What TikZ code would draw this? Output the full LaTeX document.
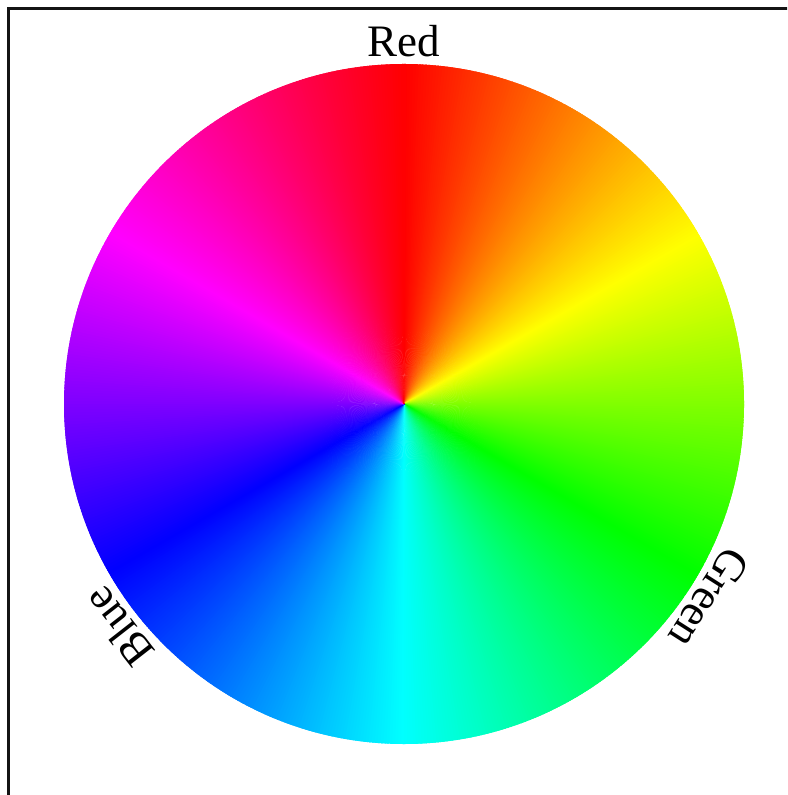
\documentclass[tikz,border=0pt]{standalone}
\usepackage{fontspec}
\setmainfont{Liberation Serif}
\usetikzlibrary{calc}
\definecolor{framegray}{RGB}{20,20,20}

\begin{document}
\begin{tikzpicture}[scale=1,
  wheellabel/.style={anchor=base,inner sep=0pt,font=\fontsize{12.8pt}{15pt}\selectfont}]
\useasboundingbox (0,0) rectangle (7.87,-7.95); %Picture size
\clip (0,0) rectangle (7.87,-7.95);
\draw[framegray,line width=0.03cm] (7.9,-0.085)--(0.085,-0.085)--(0.085,-8.0); %Frame (top and left only)
\coordinate (c) at (4.04,-4.04); %Centre of the wheel
\begin{scope}
\clip (c) circle (3.4); %Wheel
\foreach \i in {0,...,719}{
  \pgfmathsetmacro\h{\i/2}
  \pgfmathsetmacro\a{90-\h}
  \definecolor{wedge}{Hsb}{\h,1,1}
  \fill[wedge] (c) -- ++(\a:3.5) arc[start angle=\a, end angle=\a-0.9, radius=3.5] -- cycle;
}
\end{scope}
\node[wheellabel] (red) at ($(c)+(90:3.47)$) {Red}; %Labels
\node[wheellabel,rotate=-122.5] (green) at ($(c)+(-32.5:3.47)$) {Green};
\node[wheellabel,rotate=128] (blue) at ($(c)+(218:3.47)$) {Blue};
\end{tikzpicture}
\end{document}
